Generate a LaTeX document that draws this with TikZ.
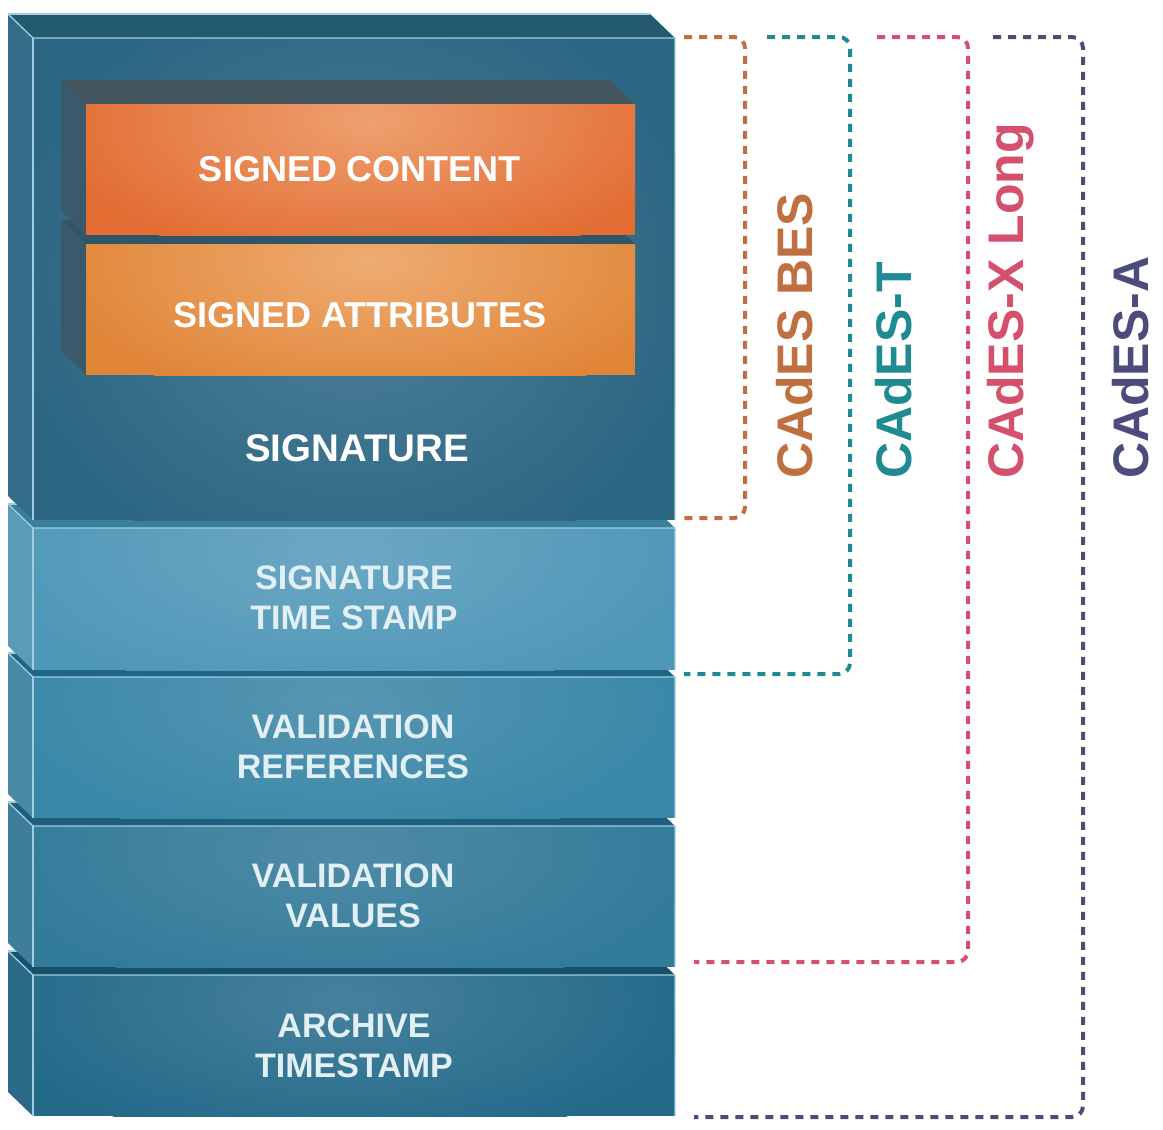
\documentclass[tikz,border=0pt]{standalone}
\usepackage{fontspec}
\setmainfont{Liberation Sans}
\definecolor{sigF}{HTML}{2B6682}
\definecolor{sigH}{HTML}{4F809A}
\definecolor{sigT}{HTML}{235A6F}
\definecolor{sigL}{HTML}{336C88}
\definecolor{tsF}{HTML}{4F97B7}
\definecolor{tsH}{HTML}{6CA8C4}
\definecolor{tsT}{HTML}{3A7F9D}
\definecolor{tsL}{HTML}{5A9BB9}
\definecolor{vrF}{HTML}{3887A7}
\definecolor{vrH}{HTML}{5796B3}
\definecolor{vrT}{HTML}{1F6585}
\definecolor{vrL}{HTML}{4A89A7}
\definecolor{vvF}{HTML}{327B99}
\definecolor{vvH}{HTML}{4F8BA7}
\definecolor{vvT}{HTML}{1E5F7C}
\definecolor{vvL}{HTML}{3E7E9C}
\definecolor{arF}{HTML}{236A89}
\definecolor{arH}{HTML}{47819D}
\definecolor{arT}{HTML}{17506A}
\definecolor{arL}{HTML}{2A6A88}
\definecolor{scF}{HTML}{E26C32}
\definecolor{scH}{HTML}{EEA070}
\definecolor{saF}{HTML}{E08436}
\definecolor{saH}{HTML}{EEAC72}
\definecolor{oTop}{HTML}{43555F}
\definecolor{oTopB}{HTML}{2F5568}
\definecolor{oLeft}{HTML}{3A5A6C}
\definecolor{edgeC}{HTML}{A0CDE0}
\definecolor{lowTxt}{HTML}{E2EFF5}
\definecolor{cBES}{HTML}{C07040}
\definecolor{cT}{HTML}{1F8A92}
\definecolor{cX}{HTML}{D4506C}
\definecolor{cA}{HTML}{4C4C7C}
\newcommand{\stackblock}[7]{%
  \fill[#5] (8,#1-24) -- (650,#1-24) -- (675,#1) -- (33,#1) -- cycle;
  \fill[#6] (8,#1-24) -- (33,#1) -- (33,#2) -- (8,#2-24) -- cycle;
  \begin{scope}
    \clip (33,#1) rectangle (675,#2);
    \fill[#3] (33,#1) rectangle (675,#2);
    \shade[inner color=#4, outer color=#3] (340,#7) ellipse (360 and 150);
  \end{scope}
  \draw[edgeline] (8,#1-24) -- (33,#1) -- (675,#1) -- (675,#2);
  \draw[edgeline] (33,#1) -- (33,#2);
  \draw[edgeline] (8,#1-24) -- (650,#1-24);
}
\begin{document}
\begin{tikzpicture}[x=1pt,y=-1pt,
  edgeline/.style={edgeC, line width=1.3pt},
  bigtxt/.style={text=white, font=\bfseries\fontsize{36}{40}\selectfont, inner sep=0pt},
  lowtxt/.style={text=lowTxt, align=center, font=\bfseries\fontsize{34}{40}\selectfont, inner sep=0pt},
  lab/.style={rotate=90, anchor=base west, inner sep=0pt, font=\bfseries\fontsize{50}{60}\selectfont},
  bracket/.style={line width=4pt, dash pattern=on 8pt off 7pt, rounded corners=11pt}]
\useasboundingbox (0,0) rectangle (1163,1130);
\fill[white] (0,0) rectangle (1163,1130);

% stacked blocks, bottom first
\stackblock{975}{1116}{arF}{arH}{arT}{arL}{1000}
\stackblock{826}{967}{vvF}{vvH}{vvT}{vvL}{850}
\stackblock{677}{818}{vrF}{vrH}{vrT}{vrL}{700}
\stackblock{528}{670}{tsF}{tsH}{tsT}{tsL}{550}

% signature block
\fill[sigT] (8,14) -- (650,14) -- (675,38) -- (33,38) -- cycle;
\fill[sigL] (8,14) -- (33,38) -- (33,520) -- (8,496) -- cycle;
\begin{scope}
  \clip (33,38) rectangle (675,520);
  \fill[sigF] (33,38) rectangle (675,520);
  \shade[inner color=sigH, outer color=sigF] (355,280) ellipse (350 and 310);
\end{scope}
\draw[edgeline] (8,14) -- (33,38) -- (675,38) -- (675,520);
\draw[edgeline] (33,38) -- (33,520);
\draw[edgeline] (8,14) -- (650,14);

% signed attributes (lower orange)
\fill[oTopB] (61,220) -- (610,220) -- (635,244) -- (86,244) -- cycle;
\fill[oLeft] (61,220) -- (86,244) -- (86,375) -- (61,351) -- cycle;
\begin{scope}
  \clip (86,244) rectangle (635,375);
  \fill[saF] (86,244) rectangle (635,375);
  \shade[inner color=saH, outer color=saF] (370,262) ellipse (330 and 150);
\end{scope}
% signed content (upper orange)
\fill[oTop] (61,80) -- (610,80) -- (635,104) -- (86,104) -- cycle;
\fill[oLeft] (61,80) -- (86,104) -- (86,235) -- (61,211) -- cycle;
\begin{scope}
  \clip (86,104) rectangle (635,235);
  \fill[scF] (86,104) rectangle (635,235);
  \shade[inner color=scH, outer color=scF] (370,120) ellipse (330 and 150);
\end{scope}

% texts
\node[bigtxt] (sc) at (360,169) {SIGNED CONTENT};
\node[bigtxt] (sa) at (360,315) {SIGNED ATTRIBUTES};
\node[bigtxt, font=\bfseries\fontsize{38.5}{40}\selectfont] (sig) at (357,448) {SIGNATURE};
\node[lowtxt] (ts) at (354,598) {SIGNATURE\\TIME STAMP};
\node[lowtxt] (vr) at (353,747) {VALIDATION\\REFERENCES};
\node[lowtxt] (vv) at (353,896) {VALIDATION\\VALUES};
\node[lowtxt] (at) at (354,1046) {ARCHIVE\\TIMESTAMP};

% brackets
\coordinate (b1s) at (684,37); \coordinate (b1e) at (684,518);
\coordinate (b2s) at (767,37); \coordinate (b2e) at (684,674);
\coordinate (b3s) at (877,37); \coordinate (b3e) at (694,962);
\coordinate (b4s) at (993,37); \coordinate (b4e) at (694,1117);
\draw[bracket, cBES] (b1s) -- (745,37) -- (745,518) -- (b1e);
\draw[bracket, cT] (b2s) -- (850,37) -- (850,674) -- (b2e);
\draw[bracket, cX] (b3s) -- (968,37) -- (968,962) -- (b3e);
\draw[bracket, cA] (b4s) -- (1083,37) -- (1083,1117) -- (b4e);

% labels
\node[lab, text=cBES] (lbes) at (812,479) {CAdES BES};
\node[lab, text=cT] (lt) at (911,479) {CAdES-T};
\node[lab, text=cX] (lx) at (1023,479) {CAdES-X Long};
\node[lab, text=cA] (la) at (1148,479) {CAdES-A};
\end{tikzpicture}
\end{document}
